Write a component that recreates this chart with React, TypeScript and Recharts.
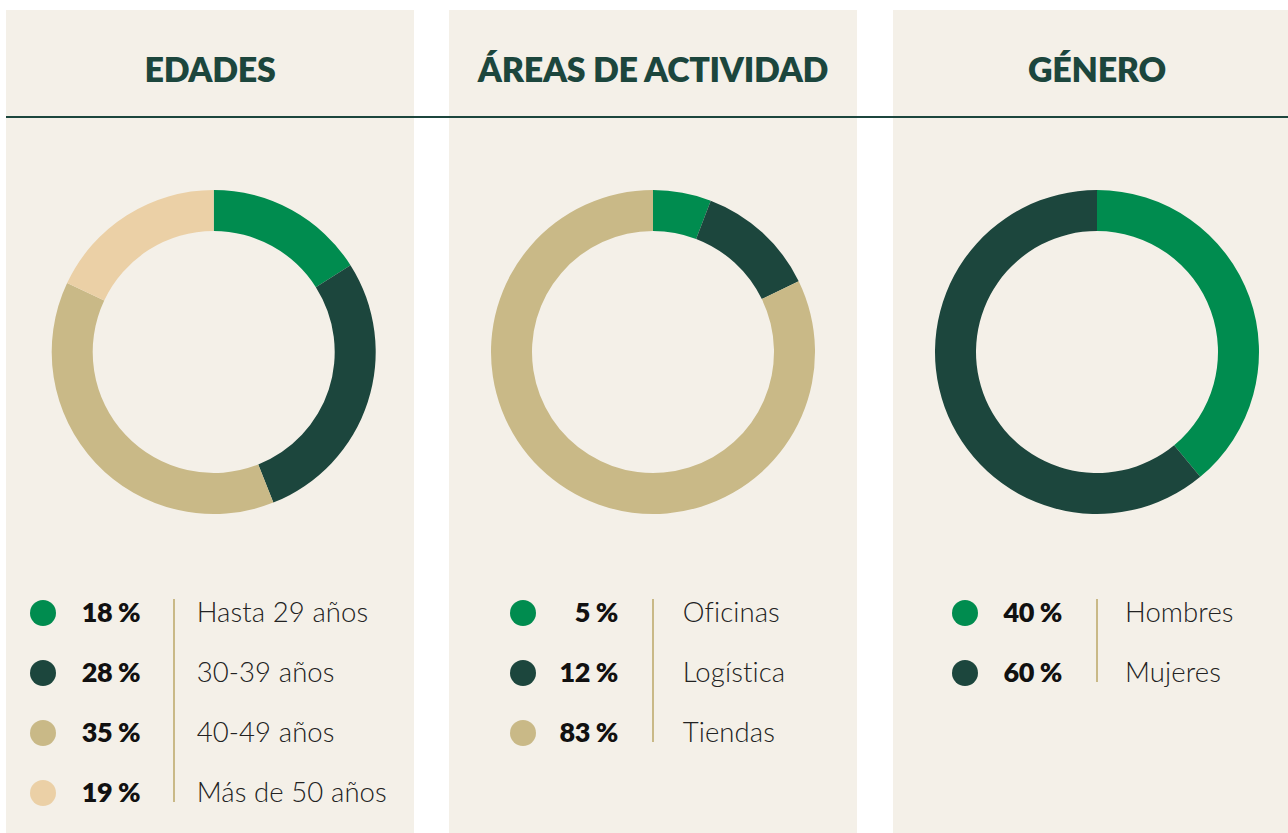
import React from 'react';
import { PieChart, Pie, Cell } from 'recharts';

// printed percentages
const edadesLabels = ['Hasta 29 años', '30-39 años', '40-49 años', 'Más de 50 años'];
const edadesValues = [18, 28, 35, 19];
// arc shares as drawn in the source graphic
const edadesArcs = [16, 28, 38, 18];

const areasLabels = ['Oficinas', 'Logística', 'Tiendas'];
const areasValues = [5, 12, 83];
const areasArcs = [5.8, 12, 82.2];

const generoLabels = ['Hombres', 'Mujeres'];
const generoValues = [40, 60];
const generoArcs = [39, 61];

const titles = ['EDADES', 'ÁREAS DE ACTIVIDAD', 'GÉNERO'];

const COLORS = ['#008c4f', '#1c463d', '#c9b987', '#ebd0a6'];
const DARK = '#1c463d';
const BG = '#f4f0e8';
const FONT = 'Lato, "Open Sans", sans-serif';

interface LegendPos {
  dot: number;
  pctRight: number;
  line: number;
  label: number;
}

interface PanelProps {
  title: string;
  labels: string[];
  values: number[];
  arcs: number[];
  left: number;
  width: number;
  cx: number;
  pos: LegendPos;
}

const Panel: React.FC<PanelProps> = ({ title, labels, values, arcs, left, width, cx, pos }) => {
  const data = labels.map((name, i) => ({ name, pct: values[i], arc: arcs[i] }));
  const rowH = 60;
  const legendTop = 603; // centre of first row, panel coords

  return (
    <div style={{ position: 'absolute', left, top: 10, width, height: 823, background: BG }}>
      <div
        style={{
          position: 'absolute',
          top: 38,
          left: 0,
          width: 408,
          textAlign: 'center',
          fontFamily: FONT,
          fontWeight: 800,
          fontSize: 34,
          color: DARK,
          letterSpacing: -0.3,
        }}
      >
        {title}
      </div>

      <div style={{ position: 'absolute', left: 0, top: 138 }}>
        <PieChart width={408} height={408} margin={{ top: 0, right: 0, bottom: 0, left: 0 }}>
          <Pie
            data={data}
            dataKey="arc"
            cx={cx}
            cy={204}
            innerRadius={121}
            outerRadius={162}
            startAngle={90}
            endAngle={-270}
            stroke="none"
            isAnimationActive={false}
          >
            {data.map((entry, index) => (
              <Cell key={`cell-${index}`} fill={COLORS[index]} />
            ))}
          </Pie>
        </PieChart>
      </div>

      {/* legend */}
      <div
        style={{
          position: 'absolute',
          left: pos.line - 1,
          top: 589,
          width: 2,
          height: (data.length - 1) * rowH + 23,
          background: '#c9b987',
        }}
      />
      {data.map((d, i) => (
        <div key={d.name} style={{ position: 'absolute', top: legendTop + i * rowH - 20, left: 0, width, height: 40 }}>
          <div
            style={{
              position: 'absolute',
              left: pos.dot - 13,
              top: 7,
              width: 26,
              height: 26,
              borderRadius: 13,
              background: COLORS[i],
            }}
          />
          <div
            style={{
              position: 'absolute',
              right: width - pos.pctRight,
              top: -1,
              fontFamily: FONT,
              fontWeight: 800,
              fontSize: 27,
              lineHeight: '40px',
              color: '#111',
              letterSpacing: -0.5,
              whiteSpace: 'nowrap',
            }}
          >
            {d.pct} %
          </div>
          <div
            style={{
              position: 'absolute',
              left: pos.label,
              top: -1,
              fontFamily: FONT,
              fontWeight: 300,
              fontSize: 27.5,
              lineHeight: '40px',
              color: '#222',
              letterSpacing: 0.1,
              whiteSpace: 'nowrap',
            }}
          >
            {d.name}
          </div>
        </div>
      ))}
    </div>
  );
};

export default function App() {
  return (
    <div
      style={{
        position: 'fixed',
        left: 0,
        top: 0,
        width: 1288,
        height: 833,
        background: '#ffffff',
        overflow: 'hidden',
      }}
    >
      <Panel
        title={titles[0]}
        labels={edadesLabels}
        values={edadesValues}
        arcs={edadesArcs}
        left={6}
        width={408}
        cx={207.7}
        pos={{ dot: 37.3, pctRight: 134, line: 167.8, label: 190.7 }}
      />
      <Panel
        title={titles[1]}
        labels={areasLabels}
        values={areasValues}
        arcs={areasArcs}
        left={449}
        width={408}
        cx={204}
        pos={{ dot: 74.3, pctRight: 168.7, line: 204.2, label: 233.7 }}
      />
      <Panel
        title={titles[2]}
        labels={generoLabels}
        values={generoValues}
        arcs={generoArcs}
        left={893}
        width={408}
        cx={204}
        pos={{ dot: 72, pctRight: 168.7, line: 204.2, label: 232 }}
      />
      <div style={{ position: 'absolute', left: 6, top: 115.5, width: 1282, height: 2, background: DARK }} />
    </div>
  );
}
